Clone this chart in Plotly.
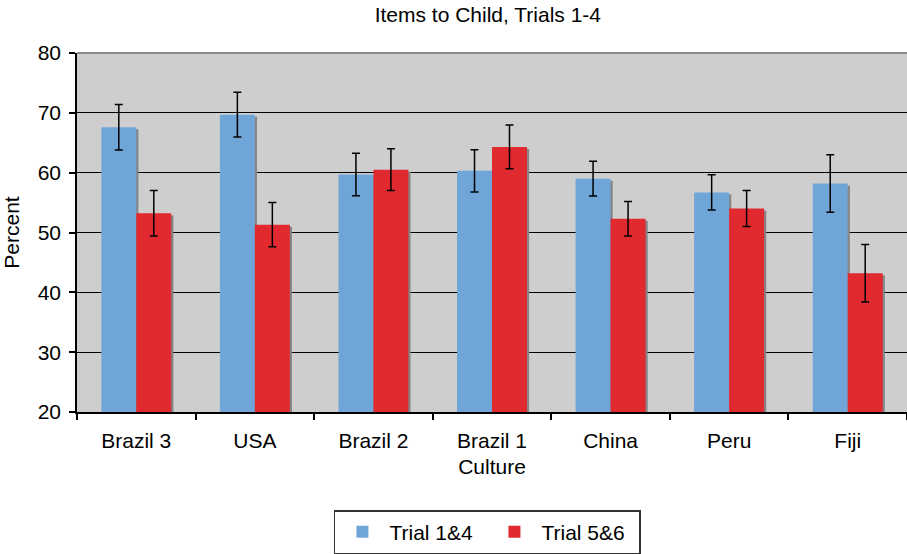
import plotly.graph_objects as go

categories = ["Brazil 3", "USA", "Brazil 2", "Brazil 1", "China", "Peru", "Fiji"]
trial_14 = [67.6, 69.7, 59.7, 60.3, 59.0, 56.7, 58.2]
trial_14_err = [3.8, 3.75, 3.55, 3.55, 2.9, 2.95, 4.8]
trial_56 = [53.2, 51.3, 60.5, 64.3, 52.3, 54.0, 43.2]
trial_56_err = [3.8, 3.7, 3.5, 3.65, 2.9, 3.0, 4.8]
series_names = ["Trial 1&4", "Trial 5&6"]
y_ticks = [20, 30, 40, 50, 60, 70, 80]

BLUE = "#70a5d8"
RED = "#e02a30"
SHADOW = "#858585"
FONT = "Liberation Sans, Arial, Helvetica, sans-serif"
FS = 21

W = 0.295          # bar width in category units
DX = 0.018         # shadow shift right (category units)
DY = 0.35          # shadow shift down (data units)

fig = go.Figure()

# shadows
for vals, off in [(trial_14, -W), (trial_56, 0.0)]:
    fig.add_trace(go.Bar(
        x=categories, y=[v - DY for v in vals], width=W, offset=off + DX,
        marker=dict(color=SHADOW, line=dict(width=0)),
        showlegend=False, hoverinfo="skip"))

# main bars
for name, vals, errs, off, col in [
        (series_names[0], trial_14, trial_14_err, -W, BLUE),
        (series_names[1], trial_56, trial_56_err, 0.0, RED)]:
    fig.add_trace(go.Bar(
        x=categories, y=vals, width=W, offset=off, name=name,
        marker=dict(color=col, line=dict(width=0)),
        error_y=dict(type="data", array=errs, visible=True,
                     color="black", thickness=1.5, width=4)))

fig.update_layout(
    width=907, height=554,
    barmode="overlay",
    paper_bgcolor="white",
    plot_bgcolor="#cecece",
    margin=dict(l=77, r=0, t=53, b=141),
    font=dict(family=FONT, size=FS, color="black"),
    title=dict(text="Items to Child, Trials 1-4", x=0.495, xref="paper",
               y=1 - 15 / 554, yref="container", yanchor="middle",
               xanchor="center", font=dict(size=FS, color="black")),
    legend=dict(orientation="h", x=0.4945, xanchor="center", y=-0.2736,
                yanchor="top", bordercolor="#333333", borderwidth=1.5,
                font=dict(size=FS), traceorder="normal", entrywidth=93,
                itemwidth=44),
    shapes=[dict(type="line", xref="paper", yref="paper", x0=0, x1=1,
                 y0=1, y1=1, line=dict(color="#888888", width=2),
                 layer="above")],
)

fig.update_xaxes(
    type="category", range=[-0.5, 6.5], automargin=False,
    showline=True, linecolor="black", linewidth=1.5,
    ticks="outside", tickson="boundaries", ticklen=6, tickcolor="black",
    tickwidth=1.5, showgrid=False,
    tickfont=dict(size=FS), ticklabelstandoff=9,
    title=dict(text="Culture", font=dict(size=FS), standoff=8),
)
fig.update_yaxes(
    range=[20, 80], tickvals=y_ticks, automargin=False,
    showline=True, linecolor="black", linewidth=1.5,
    ticks="outside", ticklen=6, tickcolor="black", tickwidth=1.5,
    showgrid=True, gridcolor="black", gridwidth=1.2, zeroline=False,
    tickfont=dict(size=FS), ticklabelstandoff=4,
    title=dict(text="Percent", font=dict(size=FS), standoff=14),
)

fig.write_html("out.html",
               config={"displayModeBar": False},
               post_script="document.body.style.margin='0';"
                           "document.body.style.overflow='hidden';")
